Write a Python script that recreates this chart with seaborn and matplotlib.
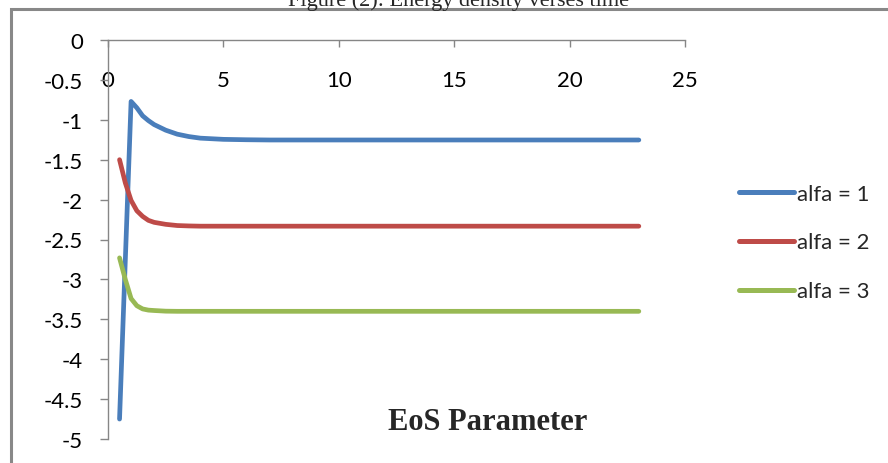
import matplotlib
matplotlib.use("Agg")
import matplotlib.pyplot as plt
import matplotlib.patches as mpatches
import seaborn as sns
import pandas as pd

# time values (x) shared by all three curves
t = [0.5, 0.75, 1.0, 1.25, 1.5, 1.75, 2, 2.5, 3, 3.5, 4, 5, 6, 7, 8, 10, 12, 15, 18, 20, 23]

alfa1 = [-4.75, -2.76, -0.77, -0.85, -0.95, -1.01, -1.06, -1.13, -1.18, -1.21, -1.23,
         -1.245, -1.25, -1.253, -1.253, -1.253, -1.253, -1.253, -1.253, -1.253, -1.253]
alfa2 = [-1.50, -1.79, -2.01, -2.14, -2.21, -2.26, -2.285, -2.31, -2.325, -2.33, -2.333,
         -2.333, -2.333, -2.333, -2.333, -2.333, -2.333, -2.333, -2.333, -2.333, -2.333]
alfa3 = [-2.73, -3.00, -3.24, -3.33, -3.37, -3.385, -3.39, -3.398, -3.40, -3.40, -3.40,
         -3.40, -3.40, -3.40, -3.40, -3.40, -3.40, -3.40, -3.40, -3.40, -3.40]

series_names = ["alfa = 1", "alfa = 2", "alfa = 3"]
colors = ["#4A7EBB", "#BE4B48", "#98B954"]

x_ticks = [0, 5, 10, 15, 20, 25]
y_ticks = [0, -0.5, -1, -1.5, -2, -2.5, -3, -3.5, -4, -4.5, -5]

df = pd.concat([
    pd.DataFrame({"t": t, "value": vals, "series": name})
    for name, vals in zip(series_names, [alfa1, alfa2, alfa3])
])

sns.set_style("white")
plt.rcParams["font.family"] = ["Lato", "DejaVu Sans"]

fig = plt.figure(figsize=(8.88, 4.64), dpi=100)
ax = fig.add_axes([108 / 888, 1 - 440 / 464, (685 - 108) / 888, (440 - 41) / 464])

sns.lineplot(data=df, x="t", y="value", hue="series", palette=colors,
             linewidth=3.4, ax=ax, sort=False)

ax.set_xlim(0, 25)
ax.set_ylim(-5, 0)
ax.set_xticks(x_ticks)
ax.set_yticks(y_ticks)
ax.set_yticklabels([f"{v:g}" for v in y_ticks])
ax.set_xlabel("")
ax.set_ylabel("")

axis_gray = "#868686"
for side in ["right", "bottom"]:
    ax.spines[side].set_visible(False)
for side in ["top", "left"]:
    ax.spines[side].set_color(axis_gray)
    ax.spines[side].set_linewidth(1.0)

ax.xaxis.set_ticks_position("top")
ax.tick_params(axis="x", direction="in", length=5, width=1, color=axis_gray,
               labelsize=16, pad=-29, labelcolor="black")
for lbl in ax.get_xticklabels():
    lbl.set_va("center")
ax.tick_params(axis="y", direction="out", length=6, width=1, color=axis_gray,
               labelsize=16, pad=12, left=True, labelcolor="black")

leg = ax.legend(loc="upper left", bbox_to_anchor=(723 / 888, 1 - 169 / 464),
                bbox_transform=fig.transFigure, frameon=False, fontsize=16,
                handlelength=2.5, handletextpad=0.15, labelspacing=1.3,
                borderpad=0.2)
for line in leg.get_lines():
    line.set_linewidth(3.6)
    line.set_solid_capstyle("round")
for line in ax.get_lines():
    line.set_solid_capstyle("round")

fig.text(488 / 888, 1 - 423 / 464, "EoS Parameter", fontsize=22, fontweight="bold",
         family=["Liberation Serif", "DejaVu Serif"], ha="center", va="center")

fig.text(458 / 888, 1 - 6 / 464, "Figure (2): Energy density verses time", fontsize=16,
         family=["Liberation Serif", "DejaVu Serif"], ha="center", va="baseline")

# outer chart-area border, only its top and left edges fall inside the picture
frame = mpatches.Rectangle((11 / 888, -0.1), 1.2, 0.1 + 1 - 10 / 464,
                           transform=fig.transFigure, fill=False,
                           edgecolor="#888888", linewidth=2.2)
fig.add_artist(frame)

fig.savefig("out.png", dpi=100)
